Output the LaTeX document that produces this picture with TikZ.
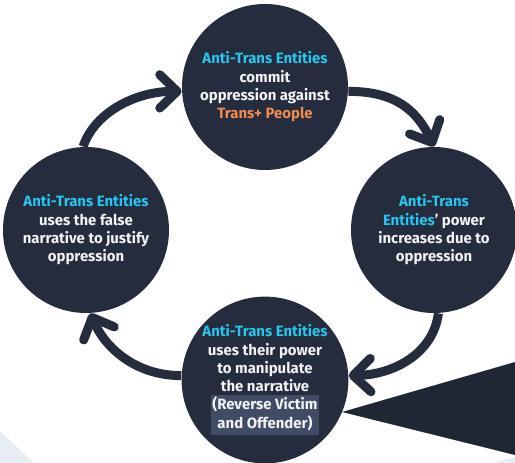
\documentclass[tikz,border=0pt]{standalone}
\usepackage{fontspec}
\setmainfont{Fira Sans}
\usepackage{xcolor}
\usetikzlibrary{arrows.meta}
\definecolor{navy}{RGB}{36,44,62}
\definecolor{wedge}{RGB}{31,38,52}
\definecolor{aqua}{RGB}{38,198,238}
\definecolor{peach}{RGB}{240,138,78}
\definecolor{hilite}{RGB}{64,76,102}
\definecolor{mist}{RGB}{232,236,243}
\definecolor{chalk}{RGB}{242,242,242}
\tikzset{every picture/.style={line width=0.75pt}}
\tikzset{
  stage/.style={circle,fill=navy,minimum size=124.5pt,inner sep=0pt,align=center,text=chalk,
    font=\bfseries\fontsize{11.2}{13.7}\selectfont},
  cycle arrow/.style={draw=navy,line width=6.75pt,
    -{Straight Barb[length=13pt,width=25pt,line cap=round,line join=round]}},
}
\newcommand{\ate}[1]{\textcolor{aqua}{#1}}

\begin{document}
\begin{tikzpicture}[x=0.75pt,y=0.75pt,yscale=-1,xscale=1]
		\useasboundingbox (0,0) rectangle (515,463);
		
		%Shape: Corners 
		\fill [mist] (0,431) -- (34,463) -- (0,463) -- cycle ;
		\fill [mist] (492,463) -- (515,457) -- (515,463) -- cycle ;
		
		%Shape: Triangle 
		\fill [wedge] (342,412) -- (515,362) -- (515,455) -- cycle ;
		
		% Text Node
		\node [stage] (oppress) at (265,87) {\ate{Anti-Trans Entities}\\commit\\oppression against\\\textcolor{peach}{Trans+ People}};
		% Text Node
		\node [stage] (gain) at (434,230) {\ate{Anti-Trans}\\\ate{Entities}’ power\\increases due to\\oppression};
		% Text Node
		\node [stage] (spin) at (265,380) {\ate{Anti-Trans Entities}\\uses their power\\to manipulate\\the narrative\\{\fboxsep=1.2pt\colorbox{hilite}{\begin{tabular}[t]{@{}c@{}}(Reverse Victim\\and Offender)\end{tabular}}}};
		% Text Node
		\node [stage] (justify) at (86,230) {\ate{Anti-Trans Entities}\\uses the false\\narrative to justify\\oppression};
		
		%Curve Lines 
		\draw [cycle arrow] (justify.92) .. controls +(12,-35) and +(-45,0) .. (oppress.183) ;
		
		%Curve Lines 
		\draw [cycle arrow] (oppress.-3) .. controls +(45,0) and +(-18,-38) .. (gain.90) ;
		
		%Curve Lines 
		\draw [cycle arrow] (gain.-87) .. controls +(-5,40) and +(45,-1) .. (spin.3) ;
		
		%Curve Lines 
		\draw [cycle arrow] (spin.177) .. controls +(-45,0) and +(15,35) .. (justify.-87) ;
		
\end{tikzpicture}
\end{document}
